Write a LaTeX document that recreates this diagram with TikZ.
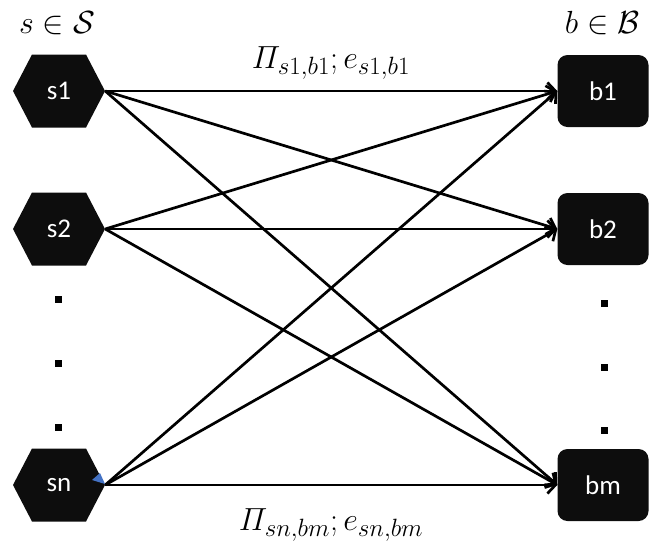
\RequirePackage{fix-cm}
\documentclass[tikz,border=0pt]{standalone}
\usepackage{amsmath}
\usepackage{fontspec}
\newfontfamily\calib{Carlito}
\usetikzlibrary{arrows.meta}
\DeclareMathSizes{32}{32}{25}{20}
\definecolor{nodeblk}{RGB}{13,13,13}
\definecolor{tipblue}{RGB}{68,114,196}
\begin{document}
\begin{tikzpicture}[x=1pt,y=-1pt,
  hexnode/.style={minimum width=92pt, minimum height=73pt, inner sep=0pt,
    text=white, font=\calib\fontsize{27}{30}\selectfont,
    path picture={\fill[nodeblk] (path picture bounding box.west)
      -- ([xshift=19pt]path picture bounding box.north west)
      -- ([xshift=-19pt]path picture bounding box.north east)
      -- (path picture bounding box.east)
      -- ([xshift=-19pt]path picture bounding box.south east)
      -- ([xshift=19pt]path picture bounding box.south west) -- cycle;}},
  boxnode/.style={minimum width=91pt, minimum height=72pt, inner sep=0pt,
    fill=nodeblk, rounded corners=10pt, text=white,
    font=\calib\fontsize{27}{30}\selectfont},
  edge/.style={line width=2.7pt, -{Straight Barb[length=8pt,width=17pt,line width=2.7pt]}},
  dotsq/.style={fill=black, minimum size=7pt, inner sep=0pt},
  lab/.style={anchor=base, font=\fontsize{32}{36}\selectfont}
]
\useasboundingbox (0,0) rectangle (654,550);

\node[hexnode] (s1) at (59,91) {s1};
\node[hexnode] (s2) at (59,229) {s2};
\node[hexnode] (sn) at (59,485) {sn};

\node[boxnode] (b1) at (603,91) {b1};
\node[boxnode] (b2) at (603,229) {b2};
\node[boxnode] (bm) at (603,485) {bm};

\node[lab] (hs) at (57,33) {$s \in \mathcal{S}$};
\node[lab] (hb) at (602,33) {$b \in \mathcal{B}$};

\node[lab] (ltop) at (331,68) {$\varPi_{s1,b1};e_{s1,b1}$};
\node[lab] (lbot) at (331,530) {$\varPi_{sn,bm};e_{sn,bm}$};

\foreach \s in {s1,s2,sn}{
  \foreach \b in {b1,b2,bm}{
    \draw[edge] (\s.east) -- (\b.west);
  }
}

\fill[tipblue] (92,480) -- (100,473) -- (105,484) -- cycle;

\node[dotsq] (ld1) at (58,299) {};
\node[dotsq] (ld2) at (58,363) {};
\node[dotsq] (ld3) at (58,427) {};
\node[dotsq] (rd1) at (604,303) {};
\node[dotsq] (rd2) at (604,367) {};
\node[dotsq] (rd3) at (604,430) {};
\end{tikzpicture}
\end{document}
